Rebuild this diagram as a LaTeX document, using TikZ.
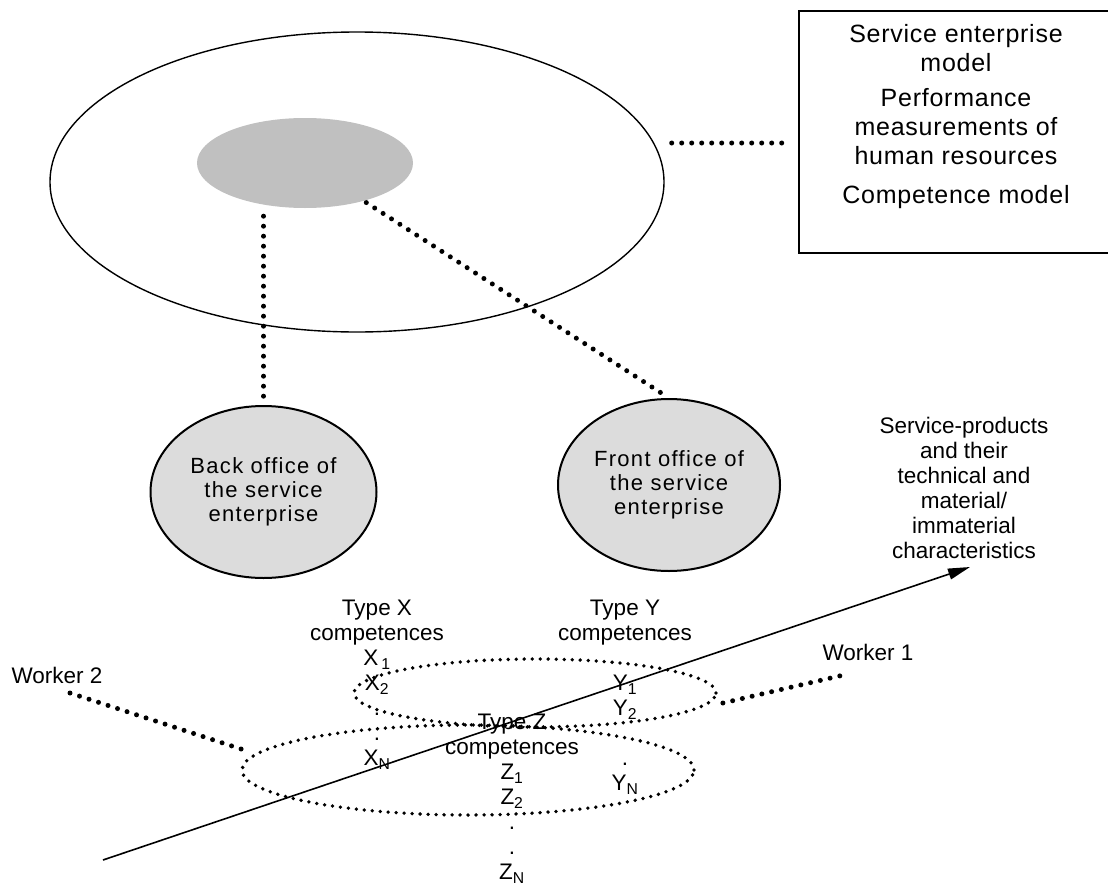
\documentclass[tikz,border=0pt]{standalone}
\usepackage{fontspec}
\setmainfont{Liberation Sans}
\newfontfamily\spacedfont[LetterSpace=6]{Liberation Sans}
\newfontfamily\boxfont[LetterSpace=3]{Liberation Sans}
\usetikzlibrary{shapes.geometric,arrows.meta}
\definecolor{innergray}{HTML}{C0C0C0}
\definecolor{officegray}{HTML}{DCDCDC}
\begin{document}
\begin{tikzpicture}[x=1pt,y=-1pt,
  txt/.style={font=\fontsize{22.5}{25}\selectfont, align=center, inner sep=0pt},
  office/.style={ellipse, draw, line width=2pt, fill=officegray, inner sep=0pt,
    minimum height=172pt, align=center, font=\spacedfont\fontsize{22}{24}\selectfont},
  dotconn/.style={line width=5pt, line cap=round, dash pattern=on 0pt off 10pt},
  dotring/.style={ellipse, draw, line width=3.8pt, line cap=round, dash pattern=on 0pt off 8pt, inner sep=0pt},
]
\useasboundingbox (0,0) rectangle (1108,886);

% top part
\node[ellipse, draw, line width=1.4pt, minimum width=614pt, minimum height=300pt, inner sep=0pt] (big) at (357,182) {};
\node[ellipse, fill=innergray, minimum width=216pt, minimum height=90pt, inner sep=0pt] (core) at (305,163) {};
\node[draw, line width=2.2pt, minimum width=314pt, minimum height=242pt, inner sep=0pt] (box) at (956,132) {};
\node[anchor=north, align=center, font=\boxfont\fontsize{25}{29}\selectfont, inner sep=0pt] (boxtext) at (956,24)
  {Service enterprise\\model\\[6pt]Performance\\measurements of\\human resources\\[10pt]Competence model};

% offices
\node[office, minimum width=226pt] (back) at (263.5,492) {Back office of\\the service\\enterprise};
\node[office, minimum width=222pt] (front) at (669,485) {Front office of\\the service\\enterprise};

% dotted connectors
\draw[dotconn, shorten <=8pt, shorten >=7pt] (back.north |- core.south) -- (back.north);
\draw[dotconn, shorten <=3pt, shorten >=6pt] (core) -- (front.north);
\draw[dotconn] ([shift={(7,-39)}]big.east) -- ([shift={(-7,11)}]box.west);

% competence rings
\node[dotring, minimum width=362pt, minimum height=68pt] (upring) at (535,693) {};
\node[dotring, minimum width=452pt, minimum height=90pt] (lowring) at (468,770) {};

% labels
\node[txt, anchor=north] (typex) at (377,600)
  {Type X\\competences\\X\hspace{3pt}\textsubscript{1}\\X\textsubscript{2}\\.\\.\\X\textsubscript{N}};
\node[txt, anchor=north] (typey) at (625,600)
  {Type Y\\competences\\[25pt]Y\textsubscript{1}\\Y\textsubscript{2}\\[25pt].\\Y\textsubscript{N}};
\node[txt, anchor=north] (typez) at (512,714)
  {Type Z\\competences\\Z\textsubscript{1}\\Z\textsubscript{2}\\.\\.\\Z\textsubscript{N}};

\node[txt] (w2) at (57,675) {Worker 2};
\node[txt] (w1) at (868,652) {Worker 1};
\draw[dotconn] ([shift={(13,18)}]w2.center) -- ([shift={(1,-21)}]lowring.west);
\draw[dotconn] ([shift={(5,10)}]upring.east) -- ([shift={(-20,22)}]w1.center);

% product axis
\node[txt, anchor=north] (prod) at (964,417)
  {Service-products\\and their\\technical and\\material/\\immaterial\\characteristics};
\coordinate (astart) at (103,860);
\coordinate (atip) at (970,567);
\draw[line width=1.6pt, -{Triangle[length=22pt,width=11pt]}] (astart) -- (atip);
\end{tikzpicture}
\end{document}
